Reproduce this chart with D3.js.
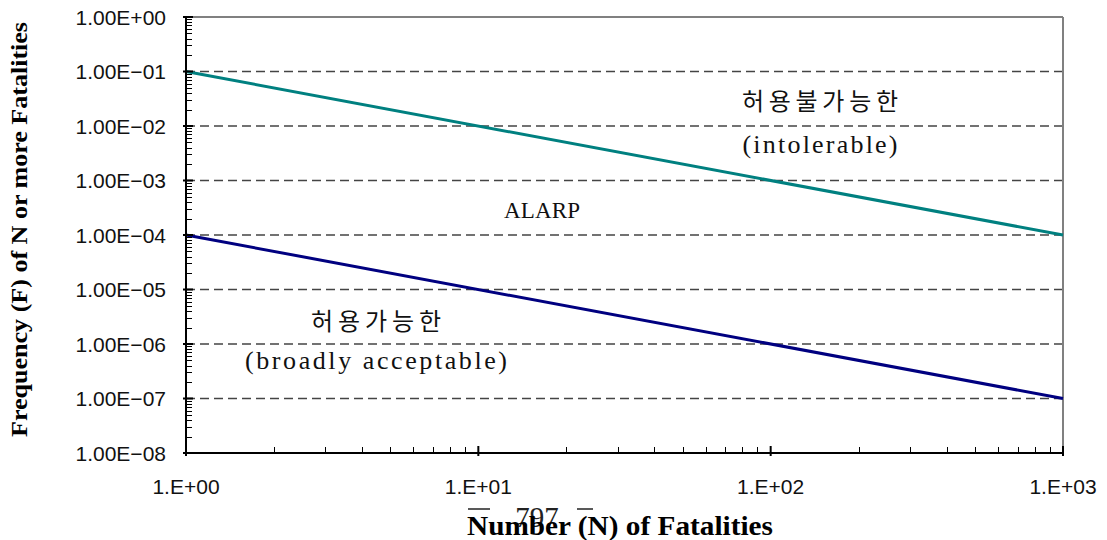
<!DOCTYPE html>
<html>
<head>
<meta charset="utf-8">
<script src="https://cdn.jsdelivr.net/npm/d3@7"></script>
<style>
  html, body { margin: 0; padding: 0; background: #fff; }
  svg { display: block; }
</style>
</head>
<body>
<svg id="chart" width="1107" height="540"></svg>
<script>
// ---- data ----
const nValues = [1, 1000];
const intolerableF = [1e-1, 1e-4];
const acceptableF = [1e-4, 1e-7];
const yTickValues = [1e0, 1e-1, 1e-2, 1e-3, 1e-4, 1e-5, 1e-6, 1e-7, 1e-8];
const yTickLabels = ["1.00E+00", "1.00E\u221201", "1.00E\u221202", "1.00E\u221203", "1.00E\u221204",
                     "1.00E\u221205", "1.00E\u221206", "1.00E\u221207", "1.00E\u221208"];
const xTickValues = [1, 10, 100, 1000];
const xTickLabels = ["1.E+00", "1.E+01", "1.E+02", "1.E+03"];
const yTitle = "Frequency (F) of N or more Fatalities";
const xTitle = "Number (N) of Fatalities";
const pageNumber = "797";

// ---- layout ----
const svg = d3.select("#chart");
const L = 186, R = 1063, T = 17, B = 453;
const x = d3.scaleLog().domain([1, 1000]).range([L, R]);
const y = d3.scaleLog().domain([1e-8, 1]).range([B, T]);

const SANS = "'Liberation Sans', Arial, sans-serif";
const SERIF = "'Liberation Serif', 'Times New Roman', serif";
const KR = "'Noto Sans CJK KR', sans-serif";

// minor tick values
const xMinor = [];
for (let d = 1; d < 1000; d *= 10) for (let k = 2; k <= 9; k++) xMinor.push(d * k);
const yMinor = [];
for (let d = 1e-8; d < 0.99; d *= 10) for (let k = 2; k <= 9; k++) yMinor.push(d * k);

// gridlines
svg.append("g").selectAll("line")
  .data(yTickValues.slice(1, -1))
  .join("line")
  .attr("x1", L).attr("x2", R)
  .attr("y1", d => y(d)).attr("y2", d => y(d))
  .attr("stroke", "#444").attr("stroke-width", 1.4)
  .attr("stroke-dasharray", "9,5");

// top & right border (gray)
svg.append("line").attr("x1", L).attr("x2", R).attr("y1", T).attr("y2", T)
  .attr("stroke", "#808080").attr("stroke-width", 2);
svg.append("line").attr("x1", R).attr("x2", R).attr("y1", T).attr("y2", B)
  .attr("stroke", "#808080").attr("stroke-width", 2);

// lines
const line = d3.line().x(d => x(d[0])).y(d => y(d[1]));
svg.append("path")
  .datum(nValues.map((n, i) => [n, intolerableF[i]]))
  .attr("d", line).attr("fill", "none")
  .attr("stroke", "#008080").attr("stroke-width", 3);
svg.append("path")
  .datum(nValues.map((n, i) => [n, acceptableF[i]]))
  .attr("d", line).attr("fill", "none")
  .attr("stroke", "#000080").attr("stroke-width", 3);

// y axis
const yAxisG = svg.append("g");
yAxisG.append("line").attr("x1", L).attr("x2", L).attr("y1", T - 1).attr("y2", B + 1)
  .attr("stroke", "#000").attr("stroke-width", 2);
yAxisG.selectAll("line.minor").data(yMinor).join("line").attr("class", "minor")
  .attr("x1", L).attr("x2", L + 6)
  .attr("y1", d => Math.round(y(d)) + 0.5).attr("y2", d => Math.round(y(d)) + 0.5)
  .attr("stroke", "#000").attr("stroke-width", 1);
yAxisG.selectAll("line.major").data(yTickValues).join("line").attr("class", "major")
  .attr("x1", L - 3).attr("x2", L + 7)
  .attr("y1", d => y(d)).attr("y2", d => y(d))
  .attr("stroke", "#000").attr("stroke-width", 2);
yAxisG.selectAll("text").data(yTickValues).join("text")
  .attr("x", 166).attr("y", d => y(d))
  .attr("dy", "0.36em")
  .attr("text-anchor", "end")
  .style("font-family", SANS)
  .style("font-size", "21px")
  .attr("fill", "#111")
  .text((d, i) => yTickLabels[i]);

// x axis
const xAxisG = svg.append("g");
xAxisG.append("line").attr("x1", L - 1).attr("x2", R + 1).attr("y1", B).attr("y2", B)
  .attr("stroke", "#000").attr("stroke-width", 2);
xAxisG.selectAll("line.minor").data(xMinor).join("line").attr("class", "minor")
  .attr("x1", d => Math.round(x(d)) + 0.5).attr("x2", d => Math.round(x(d)) + 0.5)
  .attr("y1", B).attr("y2", B - 6)
  .attr("stroke", "#000").attr("stroke-width", 1);
xAxisG.selectAll("line.major").data(xTickValues).join("line").attr("class", "major")
  .attr("x1", d => x(d)).attr("x2", d => x(d))
  .attr("y1", B + 3).attr("y2", B - 7)
  .attr("stroke", "#000").attr("stroke-width", 2);
xAxisG.selectAll("text").data(xTickValues).join("text")
  .attr("x", d => x(d)).attr("y", 486)
  .attr("dy", "0.36em")
  .attr("text-anchor", "middle")
  .style("font-family", SANS)
  .style("font-size", "21px")
  .attr("fill", "#111")
  .text((d, i) => xTickLabels[i]);

// annotations
function ann(txt, cx, by, fam, size, len) {
  const t = svg.append("text")
    .attr("x", cx).attr("y", by)
    .attr("text-anchor", "middle")
    .style("font-family", fam)
    .style("font-size", size + "px")
    .attr("fill", "#111")
    .text(txt);
  if (len) t.attr("textLength", len).attr("lengthAdjust", "spacing");
  return t;
}
ann("허용불가능한", 820, 110, KR, 24, 156);
ann("(intolerable)", 820, 153, SERIF, 26, 155);
ann("ALARP", 542, 218, SERIF, 23, 76);
ann("허용가능한", 376, 330, KR, 24, 130);
ann("(broadly  acceptable)", 376, 369, SERIF, 26, 262);

// page number artifact
svg.append("text").attr("x", 537).attr("y", 527)
  .attr("text-anchor", "middle")
  .style("font-family", SERIF)
  .style("font-size", "29px")
  .attr("fill", "#222")
  .text(pageNumber);
svg.append("line").attr("x1", 468).attr("x2", 490).attr("y1", 509).attr("y2", 509)
  .attr("stroke", "#222").attr("stroke-width", 1.5);
svg.append("line").attr("x1", 577).attr("x2", 593).attr("y1", 509).attr("y2", 509)
  .attr("stroke", "#222").attr("stroke-width", 1.5);

// axis titles
svg.append("text")
  .attr("transform", "translate(27,229.5) rotate(-90)")
  .attr("text-anchor", "middle")
  .style("font-family", SERIF)
  .style("font-weight", "bold")
  .style("font-size", "23px")
  .attr("textLength", 415).attr("lengthAdjust", "spacingAndGlyphs")
  .attr("fill", "#000")
  .text(yTitle);
svg.append("text")
  .attr("x", 620).attr("y", 535)
  .attr("text-anchor", "middle")
  .style("font-family", SERIF)
  .style("font-weight", "bold")
  .style("font-size", "27px")
  .attr("textLength", 306).attr("lengthAdjust", "spacingAndGlyphs")
  .attr("fill", "#000")
  .text(xTitle);
</script>
</body>
</html>
